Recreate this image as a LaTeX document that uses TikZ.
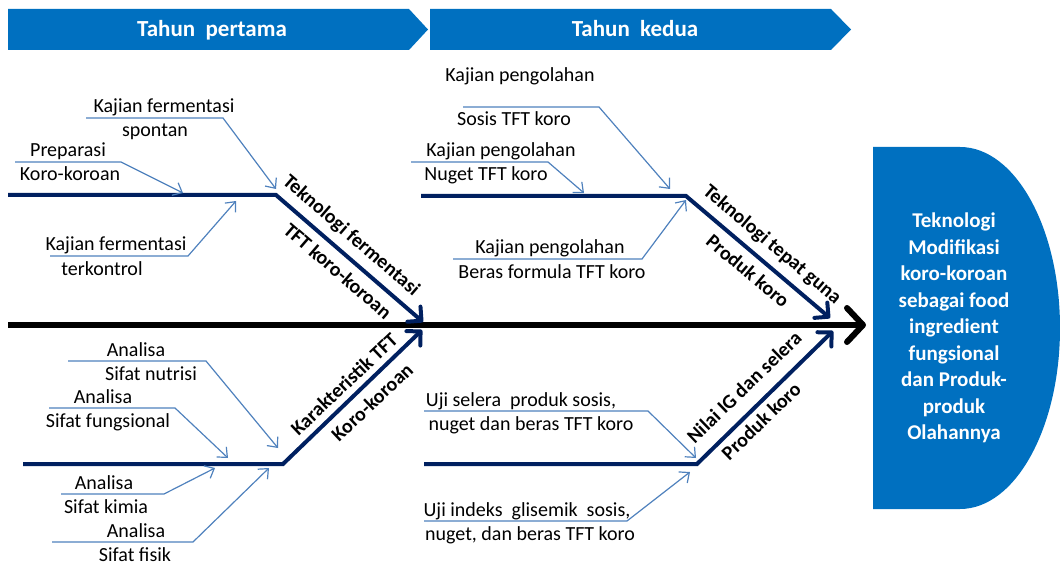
\documentclass[tikz,border=0pt]{standalone}
\usepackage{fontspec}
\setmainfont{Carlito}
\usetikzlibrary{arrows.meta}
\definecolor{banblue}{HTML}{0070C0}
\definecolor{subblue}{HTML}{4F81BD}
\definecolor{navy}{HTML}{002060}
\tikzset{
  lbl/.style={font=\fontsize{20}{24}\selectfont, anchor=base, inner sep=0pt},
  bonelbl/.style={font=\fontsize{20}{24}\selectfont\bfseries, inner sep=0pt},
  bannertext/.style={font=\fontsize{23}{27}\selectfont\bfseries, text=white, inner sep=0pt, anchor=base},
  goaltext/.style={font=\fontsize{21}{26.5}\selectfont\bfseries, text=white, align=center, inner sep=0pt},
  subarrow/.style={draw=subblue, line width=1.2pt, -{Straight Barb[length=8pt,width=14pt]}},
  bone/.style={draw=navy, line width=4pt, -{Straight Barb[length=10pt,width=20pt,round]}},
  spine/.style={draw=black, line width=6pt, -{Straight Barb[length=16pt,width=34pt,round]}},
  banner/.style={fill=banblue}
}
\begin{document}
\begin{tikzpicture}[x=1pt,y=-1pt]
\useasboundingbox (0,0) rectangle (1060,564);

% banners
\fill[banner] (8,9) -- (409,9) -- (428,29.5) -- (409,50) -- (8,50) -- cycle;
\fill[banner] (430,9) -- (831,9) -- (851,29.5) -- (831,50) -- (430,50) -- cycle;
\node[bannertext] (ban1) at (212,37) {Tahun\ \ pertama};
\node[bannertext] (ban2) at (635,37) {Tahun\ \ kedua};

% goal shape
\fill[banblue] (873,147) -- (960,147) arc[start angle=-90,end angle=90,x radius=100,y radius=181] -- (873,509) -- cycle;
\node[goaltext] (goal) at (954,328) {Teknologi\\Modifikasi\\koro-koroan\\sebagai food\\ingredient\\fungsional\\dan Produk-\\produk\\Olahannya};

% spine
\coordinate (s0) at (8,325);
\coordinate (s1) at (866,325);
\draw[spine] (s0) -- (s1);

% bones
\coordinate (ul0) at (8,195);  \coordinate (ulj) at (276,195); \coordinate (ult) at (423,322);
\coordinate (ll0) at (23,464); \coordinate (llj) at (283,464); \coordinate (llt) at (422,330);
\coordinate (ur0) at (421,196);\coordinate (urj) at (686,196); \coordinate (urt) at (830,318);
\coordinate (lr0) at (424,464);\coordinate (lrj) at (697,464); \coordinate (lrt) at (833,331);
\draw[bone] (ul0) -- (ulj) -- (ult);
\draw[bone] (ll0) -- (llj) -- (llt);
\draw[bone] (ur0) -- (urj) -- (urt);
\draw[bone] (lr0) -- (lrj) -- (lrt);

% bone labels
\node[bonelbl, rotate=-40.8] (ulA) at (351,236) {Teknologi fermentasi};
\node[bonelbl, rotate=-40.8] (ulB) at (338,271) {TFT koro-koroan};
\node[bonelbl, rotate=43.3] (llA) at (344,384) {Karakteristik TFT};
\node[bonelbl, rotate=43.3] (llB) at (372,402) {Koro-koroan};
\node[bonelbl, rotate=-40] (urA) at (772,245) {Teknologi tepat guna};
\node[bonelbl, rotate=-40] (urB) at (748,271) {Produk koro};
\node[bonelbl, rotate=44] (lrA) at (744,387) {Nilai IG dan selera};
\node[bonelbl, rotate=44] (lrB) at (761,421) {Produk koro};

% ---- upper left sub-causes
\coordinate (a1s) at (86,118);  \coordinate (a1m) at (223,118); \coordinate (a1t) at (276,189);
\draw[subarrow] (a1s) -- (a1m) -- (a1t);
\node[lbl] (t1a) at (164,113) {Kajian fermentasi};
\node[lbl] (t1b) at (155,137) {spontan};

\coordinate (a2s) at (15,162);  \coordinate (a2m) at (121,162); \coordinate (a2t) at (183,193);
\draw[subarrow] (a2s) -- (a2m) -- (a2t);
\node[lbl] (t2a) at (68,157) {Preparasi};
\node[lbl] (t2b) at (70,181) {Koro-koroan};

\coordinate (a3s) at (50,256);  \coordinate (a3m) at (188,256); \coordinate (a3t) at (236,201);
\draw[subarrow] (a3s) -- (a3m) -- (a3t);
\node[lbl] (t3a) at (116,251) {Kajian fermentasi};
\node[lbl] (t3b) at (102,275) {terkontrol};

% ---- lower left sub-causes
\coordinate (b1s) at (68,361);  \coordinate (b1m) at (206,361); \coordinate (b1t) at (278,448);
\draw[subarrow] (b1s) -- (b1m) -- (b1t);
\node[lbl] (u1a) at (136,356) {Analisa};
\node[lbl] (u1b) at (151,380) {Sifat nutrisi};

\coordinate (b2s) at (49,408);  \coordinate (b2m) at (175,408); \coordinate (b2t) at (228,458);
\draw[subarrow] (b2s) -- (b2m) -- (b2t);
\node[lbl] (u2a) at (103,403) {Analisa};
\node[lbl] (u2b) at (108,427) {Sifat fungsional};

\coordinate (b3s) at (61,494);  \coordinate (b3m) at (164,494); \coordinate (b3t) at (215,468);
\draw[subarrow] (b3s) -- (b3m) -- (b3t);
\node[lbl] (u3a) at (104,489) {Analisa};
\node[lbl] (u3b) at (106,513) {Sifat kimia};

\coordinate (b4s) at (52,542);  \coordinate (b4m) at (193,542); \coordinate (b4t) at (269,468);
\draw[subarrow] (b4s) -- (b4m) -- (b4t);
\node[lbl] (u4a) at (136,537) {Analisa};
\node[lbl] (u4b) at (135,561) {Sifat fisik};

% ---- upper right sub-causes
\coordinate (c1s) at (463,107); \coordinate (c1m) at (599,107); \coordinate (c1t) at (670,189);
\draw[subarrow] (c1s) -- (c1m) -- (c1t);
\node[lbl] (v1a) at (520,82) {Kajian pengolahan};
\node[lbl] (v1b) at (514,126) {Sosis TFT koro};

\coordinate (c2s) at (411,162); \coordinate (c2m) at (548,162); \coordinate (c2t) at (584,193);
\draw[subarrow] (c2s) -- (c2m) -- (c2t);
\node[lbl] (v2a) at (501,157) {Kajian pengolahan};
\node[lbl] (v2b) at (486,181) {Nuget TFT koro};

\coordinate (c3s) at (453,259); \coordinate (c3m) at (642,259); \coordinate (c3t) at (686,200);
\draw[subarrow] (c3s) -- (c3m) -- (c3t);
\node[lbl] (v3a) at (550,254) {Kajian pengolahan};
\node[lbl] (v3b) at (552,278) {Beras formula TFT koro};

% ---- lower right sub-causes
\coordinate (d1s) at (424,411); \coordinate (d1m) at (648,411); \coordinate (d1t) at (696,458);
\draw[subarrow] (d1s) -- (d1m) -- (d1t);
\node[lbl] (w1a) at (521,406) {Uji selera\ \ produk sosis,};
\node[lbl] (w1b) at (531,430) {nuget dan beras TFT koro};

\coordinate (d2s) at (424,521); \coordinate (d2m) at (627,521); \coordinate (d2t) at (690,472);
\draw[subarrow] (d2s) -- (d2m) -- (d2t);
\node[lbl] (w2a) at (527,516) {Uji indeks\ \ glisemik\ \ sosis,};
\node[lbl] (w2b) at (530,540) {nuget, dan beras TFT koro};
\end{tikzpicture}
\end{document}
